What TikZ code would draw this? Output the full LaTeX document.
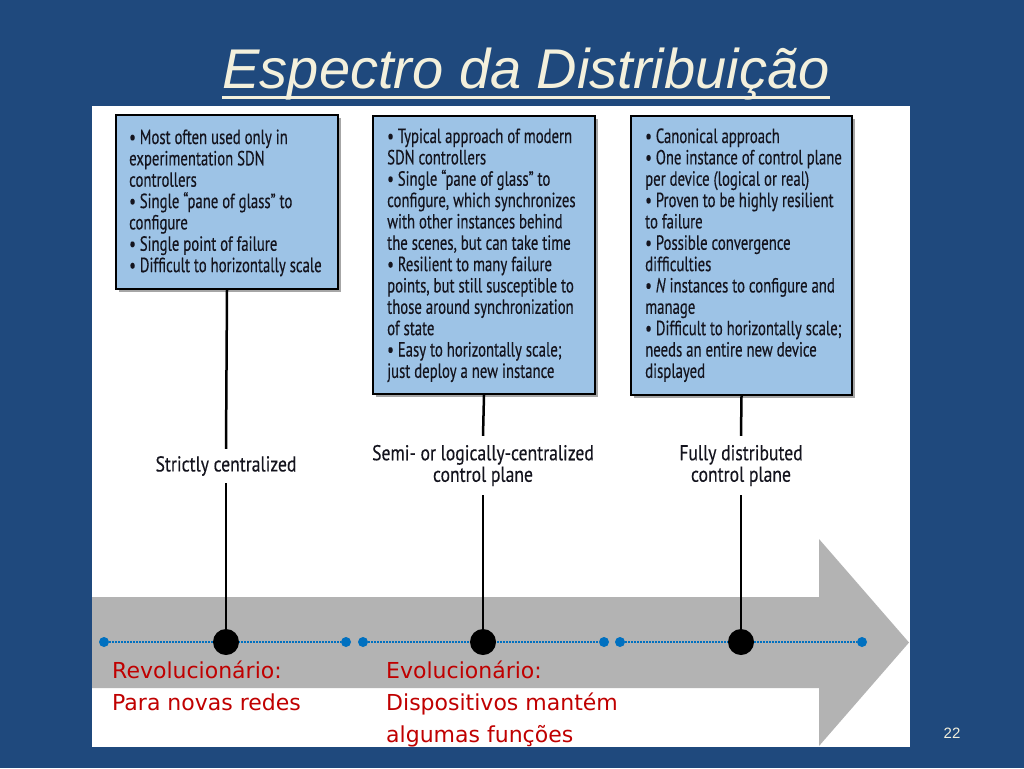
\documentclass[tikz,border=0pt]{standalone}
\usepackage{fontspec}
\setmainfont{Liberation Sans}
\newfontfamily\boxfont[FakeStretch=0.72, FakeBold=0.3]{PT Sans}
\newfontfamily\labfont[FakeStretch=0.82, FakeBold=0.3]{PT Sans}
\newfontfamily\redfont{DejaVu Sans}
\definecolor{bgblue}{RGB}{31,73,125}
\definecolor{titlecol}{RGB}{243,240,220}
\definecolor{boxblue}{RGB}{157,195,230}
\definecolor{arrowgray}{RGB}{179,179,179}
\definecolor{dotblue}{RGB}{0,112,192}
\definecolor{redtxt}{RGB}{192,0,0}
\definecolor{boxink}{RGB}{20,20,30}
\tikzset{
  infobox/.style={draw=black, line width=2pt, fill=boxblue, inner sep=0pt, anchor=north west, minimum width=222pt},
  boxshadow/.style={fill=black, opacity=0.35},
  boxtext/.style={inner sep=0pt, anchor=base west, text=boxink, font=\boxfont\fontsize{20.5}{21.35}\selectfont},
  spectlabel/.style={inner sep=0pt, align=center, text=boxink, font=\labfont\fontsize{21.5}{21.5}\selectfont},
  stem/.style={draw=black, line width=2.5pt},
  bigdot/.style={circle, fill=black, inner sep=0pt, minimum size=26pt},
  smalldot/.style={circle, fill=dotblue, inner sep=0pt, minimum size=10pt},
  dotline/.style={draw=dotblue, line width=2pt, dash pattern=on 1.4pt off 1.6pt},
  redlabel/.style={inner sep=0pt, anchor=base west, text=redtxt, font=\redfont\fontsize{22}{32}\selectfont}
}
\begin{document}
\begin{tikzpicture}[x=1pt,y=-1pt]
\fill[bgblue] (0,0) rectangle (1024,768);
\useasboundingbox (0,0) rectangle (1024,768);
% title
\node[anchor=base, inner sep=0pt, text=titlecol, font=\fontsize{56}{60}\selectfont\itshape] (title) at (526,88) {Espectro da Distribuição};
\draw[titlecol, line width=3pt] ([yshift=-9pt]title.base west) -- ([yshift=-9pt]title.base east);
% panel
\fill[white] (92,106) rectangle (910,747);
% gray arrow
\fill[arrowgray] (92,597) -- (819,597) -- (819,539) -- (909,642.5) -- (819,746) -- (819,688) -- (92,688) -- cycle;
% shadows
\fill[boxshadow] (119,118) rectangle (341,292);
\fill[boxshadow] (376,119) rectangle (598,397);
\fill[boxshadow] (634,119) rectangle (855,398);
% boxes
\node[infobox, minimum height=174pt] (b1) at (115,114) {};
\node[infobox, minimum height=278pt] (b2) at (372,115) {};
\node[infobox, minimum height=279pt, minimum width=221pt] (b3) at (630,115) {};
\node[boxtext] (t1) at (129,144) {\parbox[t]{300pt}{\raggedright
• Most often used only in\\
experimentation SDN\\
controllers\\
• Single “pane of glass” to\\
configure\\
• Single point of failure\\
• Difficult to horizontally scale}};
\node[boxtext] (t2) at (387,143) {\parbox[t]{300pt}{\raggedright
• Typical approach of modern\\
SDN controllers\\
• Single “pane of glass” to\\
configure, which synchronizes\\
with other instances behind\\
the scenes, but can take time\\
• Resilient to many failure\\
points, but still susceptible to\\
those around synchronization\\
of state\\
• Easy to horizontally scale;\\
just deploy a new instance}};
\node[boxtext] (t3) at (645,143) {\parbox[t]{300pt}{\raggedright
• Canonical approach\\
• One instance of control plane\\
per device (logical or real)\\
• Proven to be highly resilient\\
to failure\\
• Possible convergence\\
difficulties\\
• \textit{N} instances to configure and\\
manage\\
• Difficult to horizontally scale;\\
needs an entire new device\\
displayed}};
% labels
\node[spectlabel, minimum height=34pt] (l1) at (226,466) {Strictly centralized};
\node[spectlabel, minimum height=59pt] (l2) at (483,465.5) {Semi- or logically-centralized\\control plane};
\node[spectlabel, minimum height=59pt] (l3) at (741,465.5) {Fully distributed\\control plane};
% dots
\node[smalldot] (a1) at (104,642) {};
\node[smalldot] (a2) at (346,642) {};
\node[smalldot] (c1) at (363,642) {};
\node[smalldot] (c2) at (604,642) {};
\node[smalldot] (e1) at (620,642) {};
\node[smalldot] (e2) at (862,642) {};
\draw[dotline] (a1) -- (a2);
\draw[dotline] (c1) -- (c2);
\draw[dotline] (e1) -- (e2);
\node[bigdot] (d1) at (226,642) {};
\node[bigdot] (d2) at (483,642) {};
\node[bigdot] (d3) at (741,642) {};
% stems
\draw[stem] (b1.south) -- (l1.north);
\draw[stem] (l1.south) -- (d1);
\draw[stem] (b2.south) -- (l2.north);
\draw[stem] (l2.south) -- (d2);
\draw[stem] (b3.south) -- (l3.north);
\draw[stem] (l3.south) -- (d3);
% red texts
\node[redlabel] (r1) at (112,678) {\parbox[t]{260pt}{Revolucionário:\\Para novas redes}};
\node[redlabel] (r2) at (386,678) {\parbox[t]{300pt}{Evolucionário:\\Dispositivos mantém\\algumas funções}};
% page number
\node[inner sep=0pt, text=titlecol, font=\fontsize{15}{18}\selectfont] (pg) at (952,733) {22};
\end{tikzpicture}
\end{document}
